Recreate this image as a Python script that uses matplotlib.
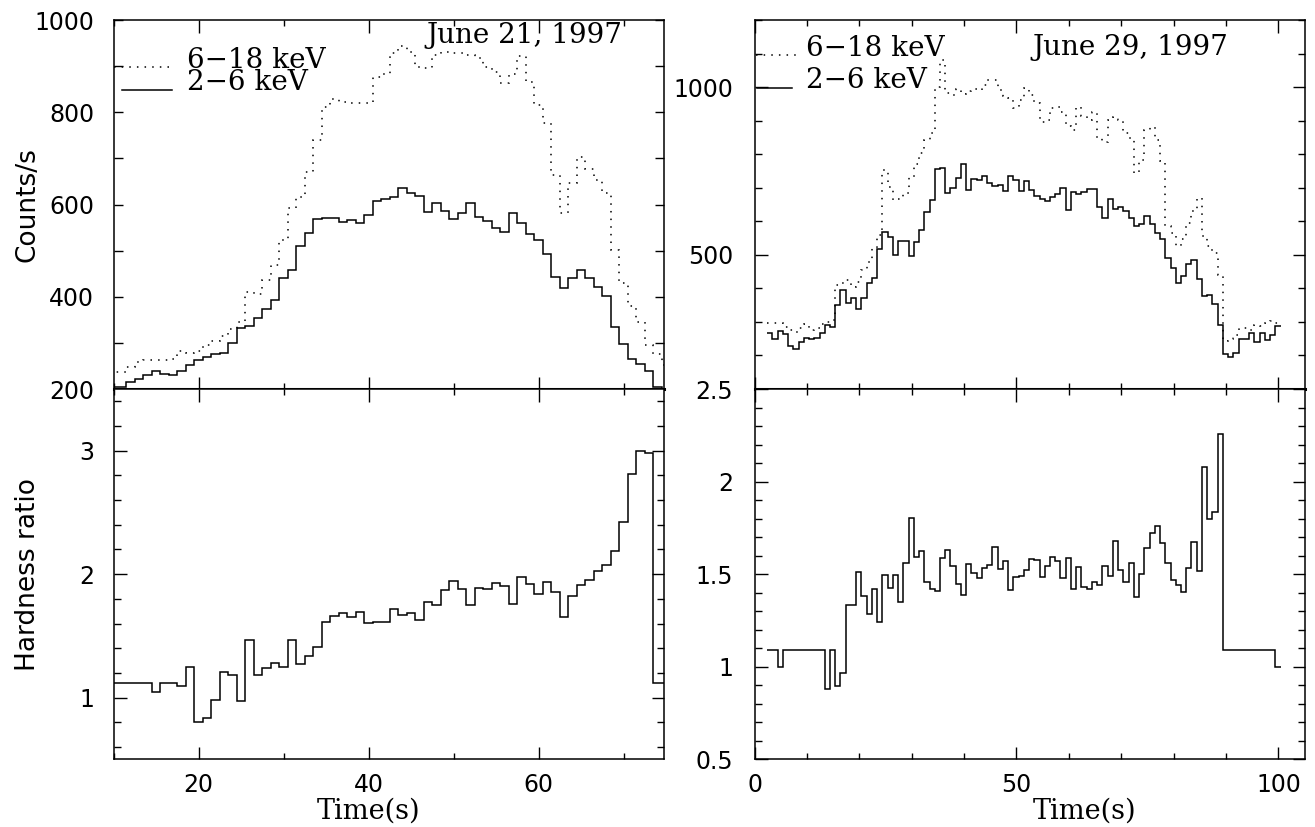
import numpy as np
import matplotlib.pyplot as plt
from matplotlib.ticker import MultipleLocator, FormatStrFormatter

# ---- June 21, 1997 : 1 s bins, first bin starts at t0_21 ----
t0_21 = 9.5
soft_21 = [205, 205, 216, 221, 230, 238, 233, 230, 239, 252, 263, 269, 277, 279,
           299, 332, 337, 355, 373, 393, 440, 457, 509, 539, 568, 570, 570, 563,
           566, 561, 577, 608, 611, 617, 635, 624, 618, 583, 604, 587, 569, 581,
           604, 574, 565, 550, 540, 581, 561, 536, 523, 493, 443, 419, 440, 459,
           440, 422, 402, 335, 297, 266, 254, 238, 205, 201]
hard_21 = [236, 236, 248, 258, 263, 263, 263, 265, 283, 278, 283, 296, 305, 316,
           330, 345, 411, 407, 436, 469, 523, 592, 617, 671, 740, 812, 828, 823,
           821, 821, 820, 877, 884, 928, 944, 931, 899, 895, 924, 931, 929, 928,
           924, 917, 899, 888, 863, 884, 922, 866, 816, 776, 664, 581, 646, 704,
           678, 653, 624, 501, 429, 379, 346, 295, 277, 252]
ratio_21 = [1.117, 1.117, 1.117, 1.117, 1.117, 1.049, 1.117, 1.117, 1.095, 1.244,
            0.804, 0.831, 0.981, 1.206, 1.184, 0.975, 1.467, 1.184, 1.239, 1.280,
            1.247, 1.467, 1.271, 1.334, 1.410, 1.611, 1.657, 1.682, 1.652, 1.695,
            1.603, 1.611, 1.614, 1.714, 1.668, 1.682, 1.627, 1.774, 1.752, 1.874,
            1.945, 1.883, 1.752, 1.891, 1.877, 1.929, 1.902, 1.755, 1.978, 1.918,
            1.842, 1.937, 1.858, 1.652, 1.823, 1.913, 1.956, 2.029, 2.078, 2.190,
            2.421, 2.812, 2.996, 2.978, 1.117, 1.117]

# ---- June 29, 1997 : 1 s bins, first bin starts at t0_29 ----
t0_29 = 2.4
soft_29 = [266, 248, 273, 264, 227, 219, 240, 253, 248, 253, 268, 290, 286, 350,
           395, 357, 372, 340, 370, 417, 432, 518, 567, 554, 500, 541, 541, 496,
           538, 575, 627, 663, 756, 760, 684, 699, 729, 772, 694, 726, 722, 734,
           714, 706, 707, 689, 736, 722, 689, 721, 692, 676, 665, 660, 672, 680,
           698, 635, 686, 682, 688, 696, 697, 642, 611, 665, 636, 642, 630, 611,
           587, 593, 617, 593, 565, 547, 490, 461, 416, 438, 474, 486, 428, 376,
           381, 354, 290, 203, 196, 208, 248, 250, 267, 240, 267, 245, 262, 287]
hard_29 = [296, 297, 298, 285, 275, 270, 283, 295, 275, 282, 295, 300, 305, 410,
           415, 425, 405, 420, 455, 478, 520, 560, 753, 703, 663, 665, 683, 733,
           770, 803, 843, 862, 1000, 1080, 982, 975, 995, 980, 988, 995, 990, 1005,
           1020, 1022, 990, 972, 967, 937, 962, 996, 977, 952, 897, 902, 937, 942,
           927, 885, 873, 941, 913, 902, 927, 848, 835, 902, 912, 902, 863, 848,
           744, 783, 873, 881, 843, 779, 585, 565, 526, 546, 596, 630, 670, 555,
           526, 506, 440, 243, 248, 262, 282, 282, 277, 292, 287, 297, 302, 297]
ratio_29 = [1.088, 1.088, 1.000, 1.088, 1.088, 1.088, 1.088, 1.088, 1.088, 1.088,
            1.088, 0.881, 1.090, 0.895, 0.968, 1.334, 1.334, 1.513, 1.383, 1.287,
            1.421, 1.244, 1.495, 1.424, 1.496, 1.352, 1.558, 1.803, 1.594, 1.623,
            1.460, 1.419, 1.410, 1.587, 1.628, 1.545, 1.449, 1.388, 1.554, 1.504,
            1.480, 1.532, 1.552, 1.644, 1.527, 1.572, 1.412, 1.486, 1.491, 1.522,
            1.581, 1.575, 1.482, 1.545, 1.590, 1.572, 1.478, 1.587, 1.419, 1.536,
            1.428, 1.419, 1.460, 1.440, 1.545, 1.491, 1.677, 1.525, 1.460, 1.558,
            1.379, 1.500, 1.639, 1.720, 1.762, 1.666, 1.560, 1.469, 1.442, 1.406,
            1.532, 1.671, 1.516, 2.081, 1.798, 1.838, 2.258, 1.088, 1.088, 1.088,
            1.088, 1.088, 1.088, 1.088, 1.088, 1.088, 1.088, 1.000]

bands = ['6\u221218 keV', '2\u22126 keV']

SERIF = 'DejaVu Serif'
DOTTED = (0, (1.0, 4.0))
LW = 1.1


def edges(t0, vals):
    return t0 + np.arange(len(vals) + 1)


def frame(ax, xmaj, xmin, ymaj, ymin, ymaj_len=9, ymin_len=5, ypad=14.5):
    ax.xaxis.set_major_locator(MultipleLocator(xmaj))
    ax.xaxis.set_minor_locator(MultipleLocator(xmin))
    ax.yaxis.set_major_locator(MultipleLocator(ymaj))
    ax.yaxis.set_minor_locator(MultipleLocator(ymin))
    ax.yaxis.set_major_formatter(FormatStrFormatter('%g'))
    ax.xaxis.set_major_formatter(FormatStrFormatter('%g'))
    ax.tick_params(which='both', direction='in', top=True, right=True,
                   width=1.0, labelsize=17)
    ax.tick_params(axis='x', which='both', pad=10)
    ax.tick_params(axis='y', which='both', pad=ypad)
    ax.tick_params(axis='x', which='major', length=9)
    ax.tick_params(axis='x', which='minor', length=4.5)
    ax.tick_params(axis='y', which='major', length=ymaj_len)
    ax.tick_params(axis='y', which='minor', length=ymin_len)
    for s in ax.spines.values():
        s.set_linewidth(1.1)


def key(ax, xt, y1, y2, dot_span, line_span, spacing):
    # sample lines for the two bands, then both labels as one block
    # (a multi-line text with va='baseline' sits on its last line)
    ax.plot(dot_span, [y1, y1], color='k', lw=LW, ls=DOTTED,
            transform=ax.transAxes, clip_on=False)
    ax.plot(line_span, [y2, y2], color='k', lw=LW,
            transform=ax.transAxes, clip_on=False)
    ax.text(xt, y2, '\n'.join(bands), transform=ax.transAxes, fontsize=20,
            family=SERIF, ha='left', va='baseline', linespacing=spacing)


fig = plt.figure(figsize=(13.15, 8.27), dpi=100)
ax_tl = fig.add_axes([0.0864, 0.5296, 0.4189, 0.4462])
ax_bl = fig.add_axes([0.0864, 0.0819, 0.4189, 0.4477])
ax_tr = fig.add_axes([0.5738, 0.5296, 0.4183, 0.4462])
ax_br = fig.add_axes([0.5738, 0.0819, 0.4183, 0.4477])

# light curves
ax_tl.stairs(hard_21, edges(t0_21, hard_21), baseline=None, color='k', lw=LW, ls=DOTTED)
ax_tl.stairs(soft_21, edges(t0_21, soft_21), baseline=None, color='k', lw=LW)
ax_tr.stairs(hard_29, edges(t0_29, hard_29), baseline=None, color='k', lw=LW, ls=DOTTED)
ax_tr.stairs(soft_29, edges(t0_29, soft_29), baseline=None, color='k', lw=LW)

# hardness ratios
ax_bl.stairs(ratio_21, edges(t0_21, ratio_21), baseline=None, color='k', lw=LW)
ax_br.stairs(ratio_29, edges(t0_29, ratio_29), baseline=None, color='k', lw=LW)

ax_tl.set_xlim(10, 74.8)
ax_bl.set_xlim(10, 74.8)
ax_tl.set_ylim(200, 1000)
ax_bl.set_ylim(0.5, 3.5)
ax_tr.set_xlim(0, 105)
ax_br.set_xlim(0, 105)
ax_tr.set_ylim(100, 1200)
ax_br.set_ylim(0.5, 2.5)

frame(ax_tl, 20, 10, 200, 100, ymaj_len=6.5, ymin_len=6.5, ypad=14)
frame(ax_bl, 20, 10, 1, 0.2, ypad=14)
frame(ax_tr, 50, 10, 500, 100, ypad=15.5)
frame(ax_br, 50, 10, 0.5, 0.1, ypad=15.5)

for ax in (ax_tl, ax_tr):
    ax.tick_params(labelbottom=False)
    ax.spines['bottom'].set_linewidth(2.2)

ax_tl.set_ylabel('Counts/s', fontsize=19)
ax_bl.set_ylabel('Hardness ratio', fontsize=19)
ax_tl.yaxis.set_label_coords(-0.132, 0.5)
ax_bl.yaxis.set_label_coords(-0.132, 0.5)

ax_bl.set_xlabel('Time(s)', fontsize=19.5, family=SERIF)
ax_br.set_xlabel('Time(s)', fontsize=19.5, family=SERIF)
ax_bl.xaxis.set_label_coords(0.462, -0.1046)
ax_br.xaxis.set_label_coords(0.600, -0.1046)

ax_tl.text(0.567, 0.9377, 'June 21, 1997', transform=ax_tl.transAxes,
           fontsize=20, family=SERIF, ha='left', va='baseline')
ax_tr.text(0.5045, 0.905, 'June 29, 1997', transform=ax_tr.transAxes,
           fontsize=20, family=SERIF, ha='left', va='baseline')

key(ax_tl, 0.1332, 0.8726, 0.8103, [0.0, 0.106], [0.015, 0.106], 0.78)
key(ax_tr, 0.0936, 0.905, 0.8157, [0.003, 0.0755], [0.0045, 0.068], 1.25)

fig.savefig('out.png', dpi=100)
